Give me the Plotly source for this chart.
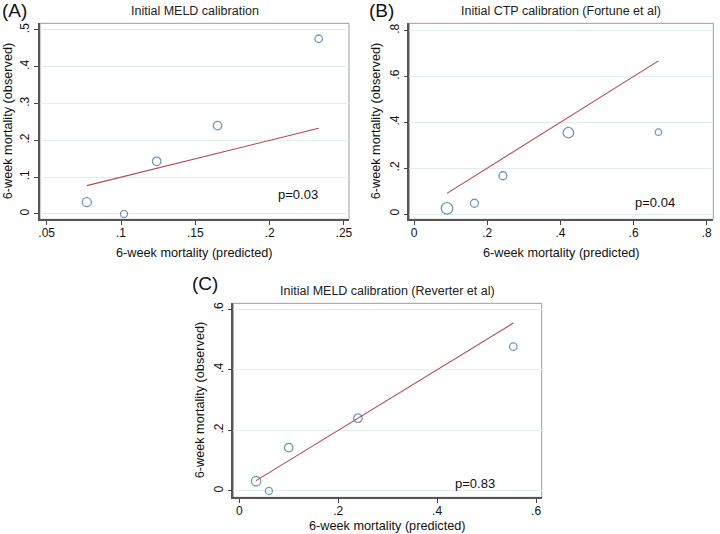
import plotly.graph_objects as go

# Panel A: Initial MELD calibration
a_pred = [0.077, 0.102, 0.124, 0.165, 0.233]
a_obs = [0.032, 0.0, 0.143, 0.240, 0.476]
a_size = [9, 7, 8.5, 8.5, 7.5]
a_xticks = [0.05, 0.10, 0.15, 0.20, 0.25]
a_xlabels = [".05", ".1", ".15", ".2", ".25"]
a_yticks = [0, 0.1, 0.2, 0.3, 0.4, 0.5]
a_ylabels = ["0", ".1", ".2", ".3", ".4", ".5"]

# Panel B: Initial CTP calibration (Fortune et al)
b_pred = [0.090, 0.165, 0.243, 0.422, 0.668]
b_obs = [0.025, 0.047, 0.167, 0.355, 0.357]
b_size = [11.5, 8, 8, 10.5, 6.5]
b_xticks = [0, 0.2, 0.4, 0.6, 0.8]
b_xlabels = ["0", ".2", ".4", ".6", ".8"]
b_yticks = [0, 0.2, 0.4, 0.6, 0.8]
b_ylabels = ["0", ".2", ".4", ".6", ".8"]

# Panel C: Initial MELD calibration (Reverter et al)
c_pred = [0.034, 0.060, 0.100, 0.240, 0.554]
c_obs = [0.032, 0.0, 0.143, 0.240, 0.476]
c_size = [9.5, 7, 8.5, 8.5, 7.5]
c_xticks = [0, 0.2, 0.4, 0.6]
c_xlabels = ["0", ".2", ".4", ".6"]
c_yticks = [0, 0.2, 0.4, 0.6]
c_ylabels = ["0", ".2", ".4", ".6"]

titles = ["Initial MELD calibration", "Initial CTP calibration (Fortune et al)",
          "Initial MELD calibration (Reverter et al)"]
panel_labels = ["(A)", "(B)", "(C)"]
pvals = ["p=0.03", "p=0.04", "p=0.83"]
pval_pos = [(0.219, 0.052), (0.658, 0.052), (0.477, 0.026)]

W, H = 720, 534
# frame boxes in pixels (left, right, top, bottom)
boxes = [(40, 349, 23.3, 219.3), (409.3, 713.3, 23.3, 219.3), (233.3, 541.7, 303.3, 497.3)]
xranges = [[0.0455, 0.2534], [-0.013, 0.818], [-0.012, 0.6114]]
yranges = [[-0.0145, 0.518], [-0.023, 0.832], [-0.021, 0.619]]
xtitle_gap = [34, 34, 28.5]   # px below frame to x-title center
ytitle_x = [8, 376, 200]      # px, y-title center

panels = [
    (a_pred, a_obs, a_size, a_xticks, a_xlabels, a_yticks, a_ylabels),
    (b_pred, b_obs, b_size, b_xticks, b_xlabels, b_yticks, b_ylabels),
    (c_pred, c_obs, c_size, c_xticks, c_xlabels, c_yticks, c_ylabels),
]

FONT = "Liberation Sans, Arial, sans-serif"
MARK = "#3d6b99"
LINE = "#b0484e"
GRID = "#e3eeee"

fig = go.Figure()
layout = dict(
    width=W, height=H, margin=dict(l=0, r=0, t=0, b=0, autoexpand=False),
    paper_bgcolor="white", plot_bgcolor="white", showlegend=False,
    font=dict(family=FONT, color="#111"),
)
annotations = []
shapes = []

for i, (pred, obs, size, xt, xl, yt, yl) in enumerate(panels):
    n = "" if i == 0 else str(i + 1)
    xa, ya = "x" + n, "y" + n
    left, right, top, bottom = boxes[i]
    fig.add_trace(go.Scatter(
        x=[min(pred), max(pred)], y=[min(pred), max(pred)], mode="lines",
        line=dict(color=LINE, width=1.1), xaxis=xa, yaxis=ya, hoverinfo="skip"))
    fig.add_trace(go.Scatter(
        x=pred, y=obs, mode="markers",
        marker=dict(size=size, color="rgba(0,0,0,0)", line=dict(color=MARK, width=1.3)),
        xaxis=xa, yaxis=ya))
    layout["xaxis" + n] = dict(
        domain=[left / W, right / W], range=xranges[i], anchor=ya, automargin=False,
        tickvals=xt, ticktext=xl, ticks="outside", ticklen=4, tickcolor="#444",
        ticklabelstandoff=-2,
        showline=True, linecolor="#555", linewidth=1.5, mirror=False,
        showgrid=False, zeroline=False, tickfont=dict(size=12),
    )
    layout["yaxis" + n] = dict(
        domain=[1 - bottom / H, 1 - top / H], range=yranges[i], anchor=xa, automargin=False,
        tickvals=yt, ticktext=yl, ticks="outside", ticklen=4, tickcolor="#444",
        tickangle=-90,
        showline=True, linecolor="#555", linewidth=1.5, mirror=False,
        showgrid=True, gridcolor=GRID, gridwidth=1, zeroline=False,
        tickfont=dict(size=12),
    )
    shapes.append(dict(type="rect", xref="paper", yref="paper",
                       x0=left / W, x1=right / W, y0=1 - bottom / H, y1=1 - top / H,
                       line=dict(color="#9a9a9a", width=1), layer="below"))
    annotations.append(dict(
        text=titles[i], xref="paper", yref="paper",
        x=(left + right) / 2 / W, y=1 - (top - 12) / H, xanchor="center", yanchor="middle",
        showarrow=False, font=dict(size=12.5, color="#222")))
    annotations.append(dict(
        text="6-week mortality (predicted)", xref="paper", yref="paper",
        x=(left + right) / 2 / W, y=1 - (bottom + xtitle_gap[i]) / H,
        xanchor="center", yanchor="middle", showarrow=False,
        font=dict(size=12.7, color="#111")))
    annotations.append(dict(
        text="6-week mortality (observed)", xref="paper", yref="paper",
        x=ytitle_x[i] / W, y=1 - (top + bottom) / 2 / H, textangle=-90,
        xanchor="center", yanchor="middle", showarrow=False,
        font=dict(size=12.7, color="#111")))
    px, py = pval_pos[i]
    annotations.append(dict(
        text=pvals[i], xref=xa, yref=ya, x=px, y=py, xanchor="center", yanchor="middle",
        showarrow=False, font=dict(size=13, color="#111")))

label_pos = [(0, 10), (367, 10), (190, 283)]
for lbl, (lx, ly) in zip(panel_labels, label_pos):
    annotations.append(dict(
        text=lbl, xref="paper", yref="paper", x=lx / W, y=1 - ly / H,
        xanchor="left", yanchor="middle", showarrow=False,
        font=dict(size=19, color="#111")))

layout["annotations"] = annotations
layout["shapes"] = shapes
fig.update_layout(**layout)
fig.write_html(
    "out.html",
    config={"displayModeBar": False},
    post_script="document.body.style.margin='0';document.body.style.overflow='hidden';",
)
